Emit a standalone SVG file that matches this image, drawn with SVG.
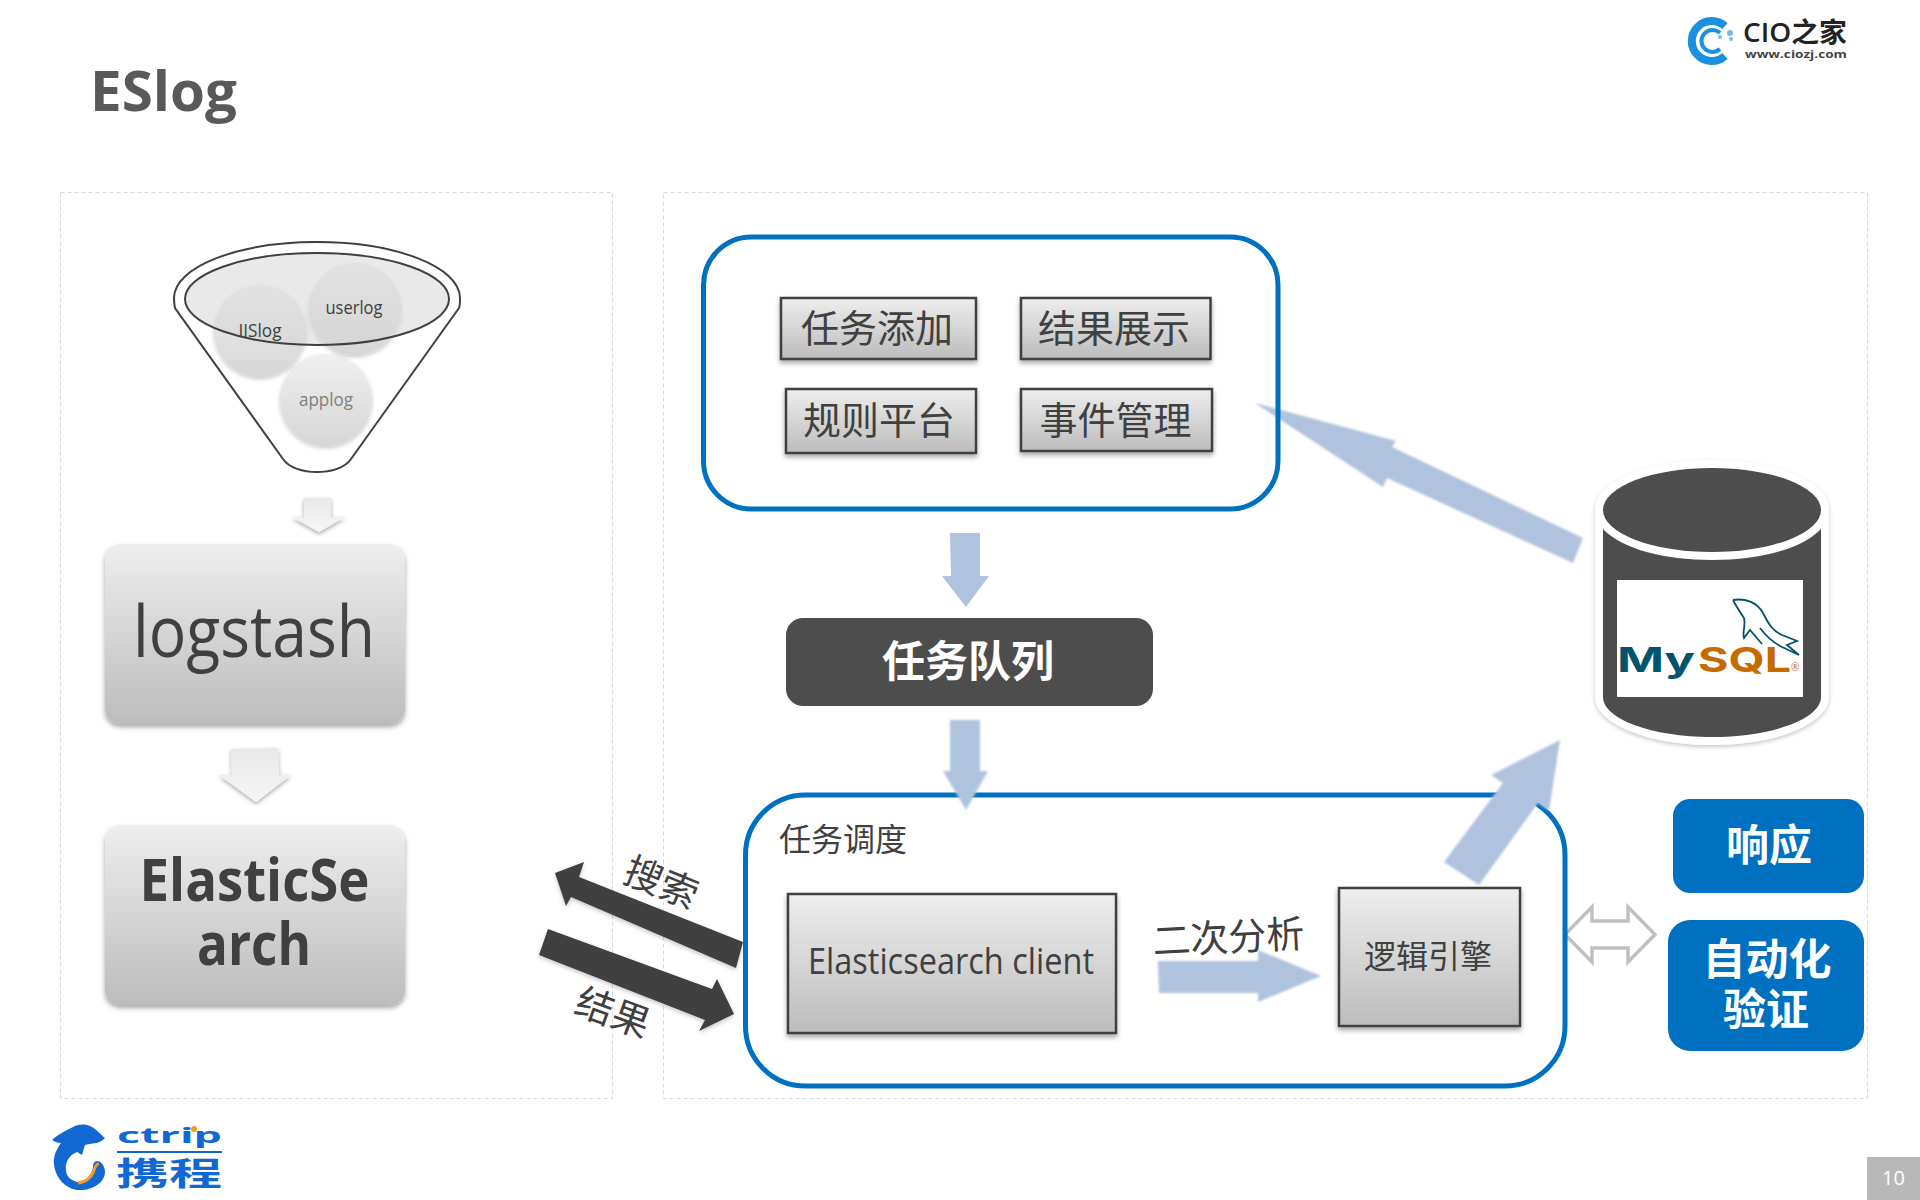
<svg xmlns="http://www.w3.org/2000/svg" width="1920" height="1200" viewBox="0 0 1920 1200">
<defs>
<linearGradient id="gBox" x1="0" y1="0" x2="0" y2="1"><stop offset="0" stop-color="#eeeeee"/><stop offset="1" stop-color="#bcbcbc"/></linearGradient>
<linearGradient id="gBall" x1="0" y1="0" x2="0" y2="1"><stop offset="0" stop-color="#f0f0f0"/><stop offset="1" stop-color="#d6d6d6"/></linearGradient>
<linearGradient id="gPale" x1="0" y1="0" x2="0" y2="1"><stop offset="0" stop-color="#e8e8e8"/><stop offset="1" stop-color="#f6f6f6"/></linearGradient>
<filter id="sh" x="-15%" y="-15%" width="130%" height="135%"><feDropShadow dx="0" dy="3" stdDeviation="2.5" flood-color="#000" flood-opacity=".35"/></filter>
<filter id="shSoft" x="-15%" y="-15%" width="130%" height="135%"><feDropShadow dx="0" dy="2" stdDeviation="2" flood-color="#000" flood-opacity=".22"/></filter>
<filter id="shPale" x="-25%" y="-25%" width="150%" height="150%"><feDropShadow dx="0" dy="2" stdDeviation="2" flood-color="#000" flood-opacity=".35"/></filter>
<filter id="soft" x="-5%" y="-5%" width="110%" height="110%"><feGaussianBlur stdDeviation="0.9"/></filter>
</defs>
<style>
text{font-family:"Open Sans","Noto Sans CJK SC",sans-serif;fill:#404040}
.cjk{font-family:"Noto Sans CJK SC",sans-serif}
.panel{fill:none;stroke:#d9d9d9;stroke-width:1;stroke-dasharray:4 3}
.blue{fill:none;stroke:#0070c0;stroke-width:5}
.box{fill:url(#gBox);stroke:#404040;stroke-width:2.5;filter:url(#sh)}
.rbox{fill:url(#gBox);filter:url(#sh)}
.ball{fill:url(#gBall);filter:url(#shSoft)}
.pale{fill:url(#gPale);filter:url(#shPale)}
.flow{fill:#b0c3de}
.dark{fill:#404040;filter:url(#shSoft)}
.cn{font-family:"Noto Sans CJK SC",sans-serif;text-anchor:middle}
.wb{font-family:"Noto Sans CJK SC",sans-serif;font-weight:700;text-anchor:middle;fill:#fff;font-size:43px}
</style>
<rect width="1920" height="1200" fill="#fff"/>
<text id="title" x="90" y="111" font-size="56" font-weight="700" style="fill:#595959" textLength="147" lengthAdjust="spacingAndGlyphs">ESlog</text>
<g id="cio-logo">
<path d="M1725,26 A20,20 0 1 0 1725,56" fill="none" stroke="#1b8fe0" stroke-width="8"/>
<path d="M1720,33 A11,11 0 1 0 1720,49" fill="none" stroke="#1b8fe0" stroke-width="4"/>
<circle cx="1720" cy="37" r="2" fill="#7ab8e8"/><circle cx="1730" cy="33" r="3" fill="#7ab8e8"/><circle cx="1731" cy="39" r="2" fill="#7ab8e8"/>
<text x="1743" y="42" font-size="27" font-weight="600" style="fill:#222" textLength="104" lengthAdjust="spacingAndGlyphs">CIO之家</text>
<text x="1745" y="58" font-size="11" font-weight="700" style="fill:#444" textLength="102" lengthAdjust="spacingAndGlyphs">www.ciozj.com</text>
</g>
<rect id="panel-left" class="panel" x="60.500" y="192.500" width="552" height="906"/>
<rect id="panel-right" class="panel" x="663.500" y="192.500" width="1204" height="906"/>
<g id="funnel">
<path d="M175,308 C174,303 174,298 174,298 C174,267 238,242 317,242 C396,242 460,267 460,298 C460,302 460,306 459,308 L351,459 C345,468 331,472 317,472 C303,472 289,468 283,459 Z" fill="#fff" stroke="#404040" stroke-width="2"/>
<g id="node-applog"><circle class="ball" cx="326" cy="400" r="46"/><text x="326" y="406" font-size="18" text-anchor="middle" style="fill:#808080" textLength="54" lengthAdjust="spacingAndGlyphs">applog</text></g>
<g id="node-iislog"><circle class="ball" cx="260" cy="331" r="46"/></g>
<g id="node-userlog"><circle class="ball" cx="355" cy="309" r="46"/></g>
<ellipse cx="317" cy="299" rx="132" ry="46" fill="#d4d4d4" fill-opacity=".5" stroke="#404040" stroke-width="2"/>
<text x="260" y="337" font-size="18" text-anchor="middle" textLength="43" lengthAdjust="spacingAndGlyphs">IISlog</text>
<text x="354" y="314" font-size="18" text-anchor="middle" textLength="57" lengthAdjust="spacingAndGlyphs">userlog</text>
</g>
<g id="connectors">
<path class="pale" d="M304,498 H331 V517 H345 L319,532 L292,517 H304 Z"/>
<path class="pale" d="M231,749 L278,748 L279,775 H291 L256,802 L219,775 H232 Z"/>
<path class="dark" d="M555,873 L584,862 L579,877 L743,942 L736,968 L571,897 L566,906 Z"/>
<path class="dark" d="M548,929 L712,989 L717,979 L734,1014 L699,1031 L705,1020 L539,955 Z"/>
<path class="flow" filter="url(#soft)" d="M1255,403 L1396,441 L1392,447 L1583,538 L1573,563 L1387,478 L1383,487 Z"/>
<path class="flow" d="M950,533 H980 V576 H989 L966,607 L942,576 H951 Z"/>
<path class="flow" filter="url(#soft)" d="M1158,961 L1258,961 V950 L1321,976 L1258,1002 V993 L1159,993 Z"/>
<path d="M1565,934.500 L1592,907 V921 H1628 V907 L1655,934.500 L1628,962 V948 H1592 V962 Z" fill="#fff" stroke="#c0c0c0" stroke-width="3.500"/>
</g>
<g id="group-top">
<rect class="blue" x="703.500" y="237" width="574.500" height="272" rx="48"/>
<g id="node-add"><rect class="box" x="781" y="298" width="195" height="61"/><text class="cn" x="877" y="342" font-size="38">任务添加</text></g>
<g id="node-result"><rect class="box" x="1021" y="298" width="189.500" height="61"/><text class="cn" x="1114" y="342" font-size="38">结果展示</text></g>
<g id="node-rule"><rect class="box" x="786" y="389" width="190" height="64"/><text class="cn" x="879" y="434" font-size="38">规则平台</text></g>
<g id="node-event"><rect class="box" x="1021" y="389" width="191" height="62"/><text class="cn" x="1115.500" y="434" font-size="38">事件管理</text></g>
</g>
<g id="node-queue"><rect x="786" y="618" width="367" height="88" rx="17" fill="#4d4d4d"/><text class="wb" x="968" y="677">任务队列</text></g>
<g id="group-schedule">
<rect class="blue" x="745.500" y="795" width="819.500" height="291" rx="60"/>
<text class="cn" x="843" y="851" font-size="32">任务调度</text>
<g id="node-client"><rect class="box" x="788" y="894" width="328" height="139"/><text x="951" y="974" font-size="36" text-anchor="middle" textLength="286" lengthAdjust="spacingAndGlyphs">Elasticsearch client</text></g>
<g id="node-engine"><rect class="box" x="1339" y="888" width="181" height="138"/><text class="cn" x="1428" y="968" font-size="32">逻辑引擎</text></g>
<text class="cn" x="1229" y="951" font-size="38" transform="rotate(-3 1228 950)">二次分析</text>
</g>
<path class="flow" filter="url(#soft)" d="M950,720 H980 V771 H988 L966,810 L943,771 H950 Z"/>
<path class="flow" filter="url(#soft)" d="M1560,740 L1491,775 L1503,783 L1444,862 L1479,885 L1538,803 L1549,811 Z"/>
<g id="node-logstash"><rect class="rbox" x="105" y="544" width="300" height="180" rx="15"/><text x="254" y="657" font-size="72" text-anchor="middle" textLength="242" lengthAdjust="spacingAndGlyphs">logstash</text></g>
<g id="node-es"><rect class="rbox" x="105" y="825" width="300" height="180" rx="15"/><text x="254.500" y="901" font-size="59" font-weight="700" text-anchor="middle" textLength="230" lengthAdjust="spacingAndGlyphs">ElasticSe</text><text x="254" y="965" font-size="59" font-weight="700" text-anchor="middle" textLength="114" lengthAdjust="spacingAndGlyphs">arch</text></g>
<text class="cn" x="662" y="896" font-size="38" transform="rotate(22 661 881)">搜索</text>
<text class="cn" x="613" y="1026" font-size="38" transform="rotate(20 612 1012)">结果</text>
<g id="node-mysql">
<path d="M1595,510 C1595,482 1647,460 1712,460 C1777,460 1829,482 1829,510 V697 C1829,723 1777,745 1712,745 C1647,745 1595,723 1595,697 Z" fill="#fff" filter="url(#shSoft)"/>
<path d="M1603,529 C1622,549 1664,560 1712,560 C1760,560 1802,549 1821,529 V697 C1821,719 1772,737 1712,737 C1652,737 1603,719 1603,697 Z" fill="#4d4d4d"/>
<ellipse cx="1712" cy="510" rx="109" ry="42" fill="#4d4d4d"/>
<rect x="1617" y="580" width="186" height="117" fill="#fff"/>
<path d="M1733,600 C1745,598 1757,602 1763,613 C1769,625 1773,631 1782,635 L1797,641 L1787,645 L1799,655 L1782,647 C1772,642 1766,636 1760,628 M1733,600 C1736,606 1740,612 1744,618 C1746,626 1742,632 1744,638 L1750,630 L1762,644" fill="none" stroke="#00546b" stroke-width="1.800"/>
<text x="1617" y="672" font-size="34" font-weight="700" style="fill:#00546b;font-family:'Inter',sans-serif" textLength="78" lengthAdjust="spacingAndGlyphs">My</text>
<text x="1698" y="672" font-size="34" font-weight="700" style="fill:#c66b00;font-family:'Inter',sans-serif" textLength="93" lengthAdjust="spacingAndGlyphs">SQL</text>
<text x="1791" y="671" font-size="10" style="fill:#c66b00">®</text>
</g>
<g id="node-response"><rect x="1673" y="799" width="191" height="94" rx="17" fill="#0070c0"/><text class="wb" x="1769" y="861">响应</text></g>
<g id="node-verify"><rect x="1668" y="920" width="196" height="131" rx="22" fill="#0070c0"/><text class="wb" x="1767" y="975">自动化</text><text class="wb" x="1766" y="1025">验证</text></g>
<g id="ctrip-logo">
<path d="M105,1138 C100,1134 95,1127 87,1125 C82,1124 76,1125 73,1127 C65,1131 57,1135 52,1140 C55,1142 58,1143 61,1143 C56,1150 53,1157 54,1164 C55,1178 66,1189 78,1190 C93,1191 105,1182 105,1172 C105,1167 102,1162 98,1161 C94,1161 93,1164 93,1167 C92,1175 86,1182 78,1182 C71,1181 66,1176 66,1170 C65,1163 68,1158 73,1154 L77,1152 L82,1155 C83,1151 84,1148 85,1145 C89,1144 94,1143 97,1143 C100,1142 103,1140 105,1138 Z" fill="#1268d3"/>
<path d="M99,1164 C96,1164 95,1167 94,1170 C92,1177 86,1182 78,1183" fill="none" stroke="#f49a1f" stroke-width="3"/>
<text x="117" y="1143" font-size="22" font-weight="700" style="fill:#1268d3" textLength="105" lengthAdjust="spacingAndGlyphs">ctrip</text>
<circle cx="194" cy="1129" r="3" fill="#f49a1f"/>
<rect x="117" y="1151" width="105" height="2" fill="#1268d3"/>
<text transform="translate(116,1185) scale(1.660,1)" font-size="32" font-weight="700" class="cjk" style="fill:#1268d3">携程</text>
</g>
<g id="page-number"><rect x="1867" y="1157" width="53" height="43" fill="#b8b8b8"/><text x="1893.500" y="1185" font-size="20" text-anchor="middle" style="fill:#fff">10</text></g>
</svg>
